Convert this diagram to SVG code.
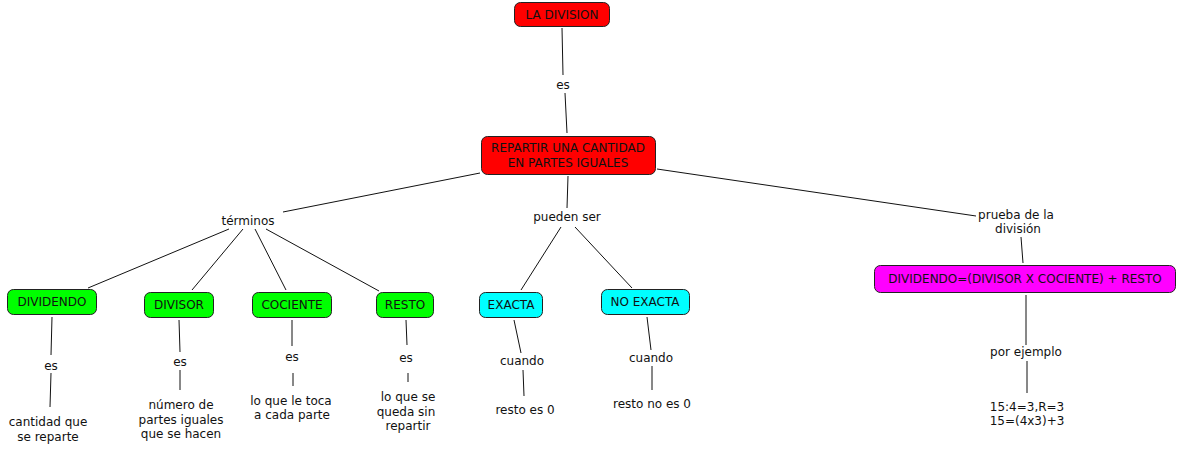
<svg xmlns="http://www.w3.org/2000/svg" width="1177" height="453" viewBox="0 0 1177 453">
<style>
text{font-family:"DejaVu Sans","Verdana",sans-serif;font-size:12px;fill:#111;text-anchor:middle}
.n rect{stroke:#222;stroke-width:1}
.red{fill:#ff0000}.grn{fill:#00ff00}.cyn{fill:#00ffff}.mag{fill:#ff00ff}
#connectors line{stroke:#111;stroke-width:1}
</style>
<rect width="1177" height="453" fill="#fff"/>
<g id="connectors">
<line x1="562" y1="28" x2="563" y2="75"/>
<line x1="565" y1="93" x2="567" y2="133"/>
<line x1="480" y1="173" x2="283" y2="212"/>
<line x1="229" y1="229" x2="88" y2="288"/>
<line x1="243" y1="229" x2="192" y2="290"/>
<line x1="255" y1="229" x2="286" y2="290"/>
<line x1="266" y1="229" x2="379" y2="291"/>
<line x1="52" y1="317" x2="51" y2="355"/>
<line x1="51" y1="373" x2="50" y2="407"/>
<line x1="179" y1="320" x2="180" y2="352"/>
<line x1="180" y1="370" x2="180" y2="390"/>
<line x1="292" y1="320" x2="292" y2="346"/>
<line x1="293" y1="373" x2="293" y2="386"/>
<line x1="406" y1="320" x2="407" y2="345"/>
<line x1="408" y1="373" x2="408" y2="382"/>
<line x1="568" y1="176" x2="567" y2="208"/>
<line x1="561" y1="227" x2="521" y2="290"/>
<line x1="575" y1="227" x2="632" y2="288"/>
<line x1="514" y1="320" x2="521" y2="353"/>
<line x1="523" y1="370" x2="524" y2="396"/>
<line x1="647" y1="317" x2="651" y2="350"/>
<line x1="652" y1="366" x2="652" y2="390"/>
<line x1="657" y1="169" x2="976" y2="216"/>
<line x1="1021" y1="237" x2="1023" y2="263"/>
<line x1="1026" y1="295" x2="1026" y2="345"/>
<line x1="1027" y1="361" x2="1027" y2="393"/>
</g>
<g id="n-la-division" class="n"><rect class="red" x="514.5" y="2.5" width="95" height="24" rx="6"/><text x="562" y="19">LA DIVISION</text></g>
<g id="n-repartir" class="n"><rect class="red" x="481.5" y="136.5" width="174" height="38" rx="6"/><text x="568" y="152">REPARTIR UNA CANTIDAD</text><text x="568" y="167">EN PARTES IGUALES</text></g>
<g id="n-dividendo" class="n"><rect class="grn" x="7.5" y="289.5" width="89" height="25" rx="6"/><text x="52" y="306">DIVIDENDO</text></g>
<g id="n-divisor" class="n"><rect class="grn" x="144.5" y="292.5" width="69" height="25" rx="6"/><text x="179" y="309">DIVISOR</text></g>
<g id="n-cociente" class="n"><rect class="grn" x="252.5" y="292.5" width="79" height="25" rx="6"/><text x="292" y="309">COCIENTE</text></g>
<g id="n-resto" class="n"><rect class="grn" x="376.5" y="292.5" width="57" height="25" rx="6"/><text x="405" y="309">RESTO</text></g>
<g id="n-exacta" class="n"><rect class="cyn" x="479.5" y="292.5" width="63" height="25" rx="6"/><text x="511" y="309">EXACTA</text></g>
<g id="n-no-exacta" class="n"><rect class="cyn" x="601.5" y="289.5" width="88" height="25" rx="6"/><text x="645" y="306">NO EXACTA</text></g>
<g id="n-prueba" class="n"><rect class="mag" x="874.5" y="265.5" width="301" height="27" rx="6"/><text x="1025" y="283">DIVIDENDO=(DIVISOR X COCIENTE) + RESTO</text></g>
<g id="labels">
<text x="563" y="89">es</text>
<text x="248" y="225">términos</text>
<text x="567" y="221">pueden ser</text>
<text x="1016" y="219">prueba de la</text>
<text x="1018" y="233">división</text>
<text x="51" y="370">es</text>
<text x="180" y="366">es</text>
<text x="292" y="361">es</text>
<text x="406" y="362">es</text>
<text x="522" y="365">cuando</text>
<text x="651" y="362">cuando</text>
<text x="1026" y="356">por ejemplo</text>
</g>
<g id="leaves">
<text x="48" y="426">cantidad que</text>
<text x="48" y="441">se reparte</text>
<text x="181" y="409">número de</text>
<text x="181" y="424">partes iguales</text>
<text x="181" y="438">que se hacen</text>
<text x="291" y="405">lo que le toca</text>
<text x="292" y="419">a cada parte</text>
<text x="408" y="401">lo que se</text>
<text x="406" y="416">queda sin</text>
<text x="408" y="430">repartir</text>
<text x="525" y="414">resto es 0</text>
<text x="652" y="408">resto no es 0</text>
<text x="1027" y="411">15:4=3,R=3</text>
<text x="1027" y="425">15=(4x3)+3</text>
</g>
</svg>
